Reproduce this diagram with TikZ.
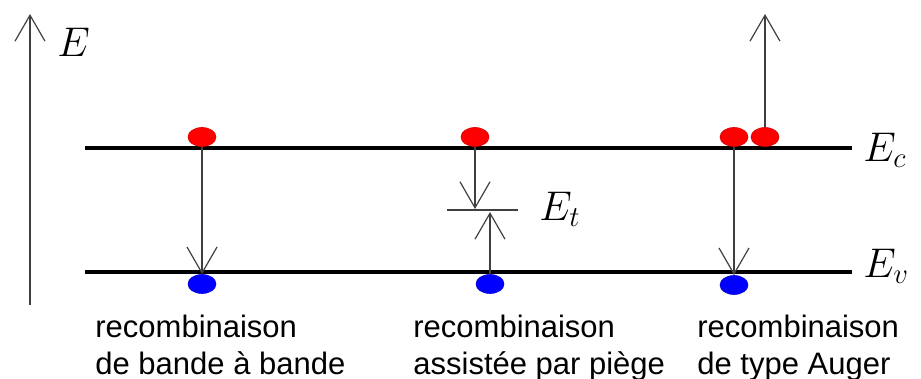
\documentclass[tikz,border=0pt]{standalone}
\usepackage{fontspec}
\setmainfont{Liberation Sans}
\usetikzlibrary{shapes.geometric,arrows.meta,positioning}
\definecolor{ElecRed} {HTML}{FF0000}
\definecolor{HoleBlue}{HTML}{0000FF}
\definecolor{ArrGray} {HTML}{404040}
\begin{document}
\begin{tikzpicture}[x=0.5pt,y=-0.5pt,
  elec/.style={ellipse,fill=ElecRed,draw=ElecRed!85!black,line width=0.3pt,
    minimum width=14pt,minimum height=9.5pt,inner sep=0pt},
  hole/.style={ellipse,fill=HoleBlue,draw=HoleBlue!85!black,line width=0.3pt,
    minimum width=14pt,minimum height=9.5pt,inner sep=0pt},
  lvl/.style={line width=1.6pt,draw=black},
  arr/.style={-{Straight Barb[length=13pt,width=15pt,line width=0.6pt]},line width=0.7pt,draw=ArrGray},
  lab/.style={font=\fontsize{15.5}{18.5}\selectfont,align=left,anchor=north west,inner sep=0pt},
  sym/.style={font=\fontsize{22}{24}\selectfont,inner sep=0pt,anchor=west}
]
\useasboundingbox (0,0) rectangle (921,379);
\coordinate(ax0) at (30,305);\coordinate(ax1) at (30,14);
\draw[arr](ax0)--(ax1);
\node[sym](eE) at (57,42){$E$};
\coordinate(c0) at (85,148);\coordinate(c1) at (852,148);
\coordinate(v0) at (85,272);\coordinate(v1) at (852,272);
\draw[lvl](c0)--(c1);\draw[lvl](v0)--(v1);
\node[sym](eC) at (863,150){$E_c$};
\node[sym](eV) at (863,266){$E_v$};
\node[elec](n1) at (202,137){};
\node[hole](h1) at (202,284){};
\draw[arr](n1.south)--(h1.north);
\node[elec](n2) at (475,137){};
\node[hole](h2) at (490,284){};
\coordinate(t0) at (447,210);\coordinate(t1) at (518,210);
\coordinate(t2) at (475,209);\coordinate(t3) at (490,212);
\draw[line width=0.6pt,draw=ArrGray](t0)--(t1);
\draw[arr](n2.south)--(t2);\draw[arr](h2.north)--(t3);
\node[sym](eT) at (539,209){$E_t$};
\node[elec](n3) at (734,137){};
\node[elec](n4) at (765,137){};
\node[hole](h3) at (734,285){};
\coordinate(up) at (765,14);
\draw[arr](n3.south)--(h3.north);\draw[arr](n4.north)--(up);
\node[lab](l1) at (95,315){recombinaison\\de bande à bande};
\node[lab](l2) at (413,315){recombinaison\\assistée par piège};
\node[lab](l3) at (697,315){recombinaison\\de type Auger};
\end{tikzpicture}
\end{document}
